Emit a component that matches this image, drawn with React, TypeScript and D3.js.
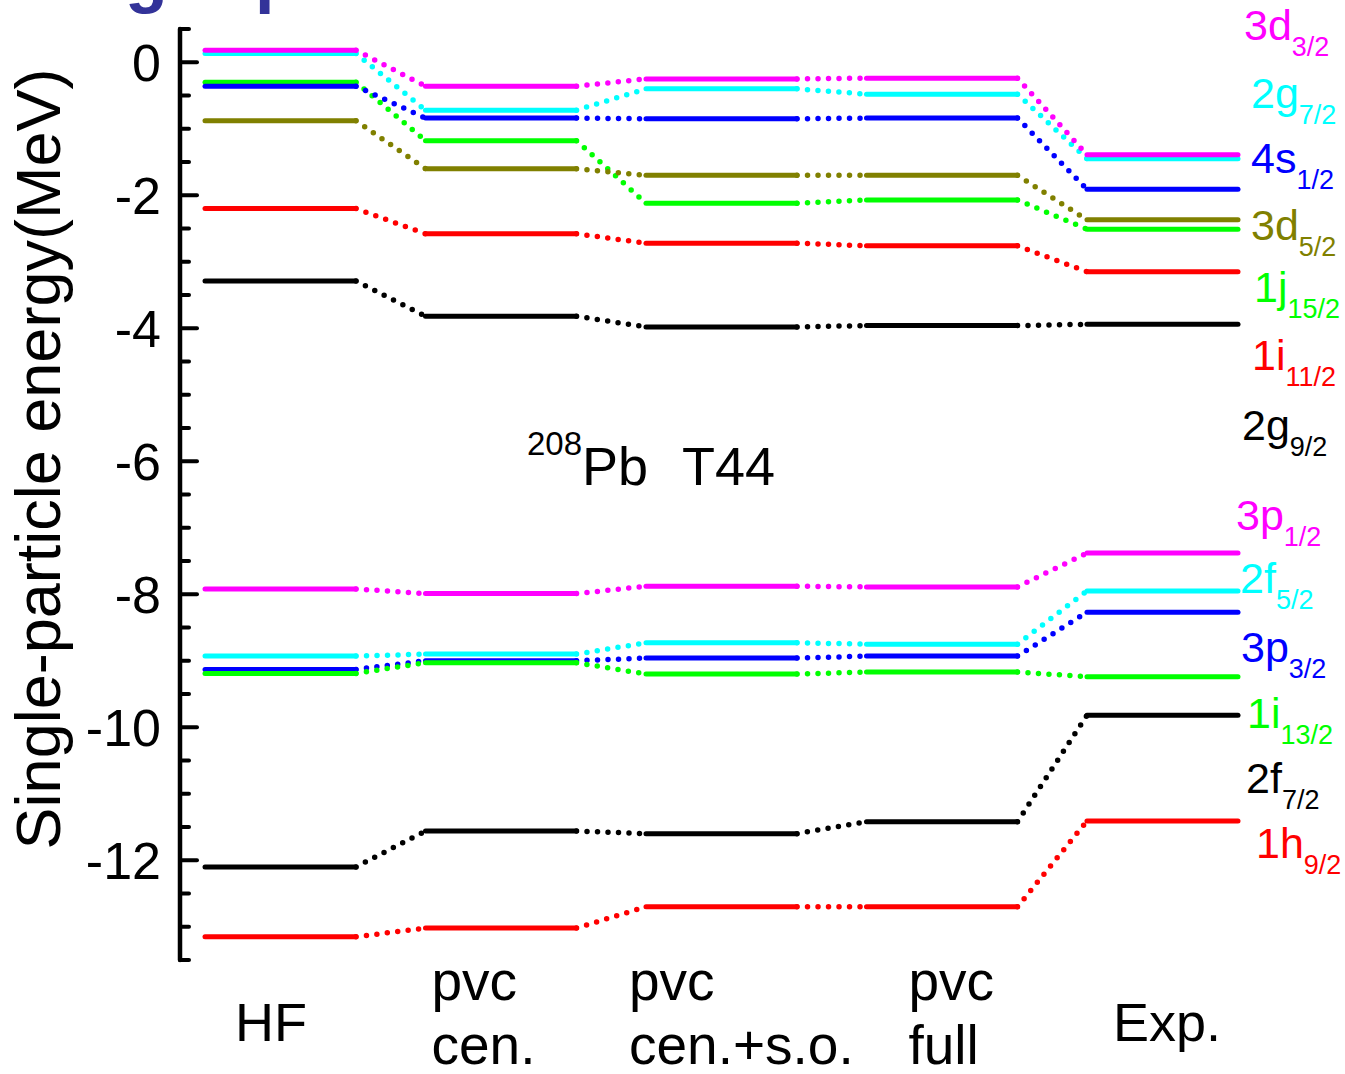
import React from 'react'
import * as d3 from 'd3'

// columns of the level scheme
const columns = ['HF', 'pvc cen.', 'pvc cen.+s.o.', 'pvc full', 'Exp.']
const columnLines = [['HF'], ['pvc', 'cen.'], ['pvc', 'cen.+s.o.'], ['pvc', 'full'], ['Exp.']]

// single-particle energies (MeV), one value per column, in draw order
const upperNames = ['2g', '3d', '1j', '4s', '3d', '1i', '2g']
const upperSubs = ['7/2', '3/2', '15/2', '1/2', '5/2', '11/2', '9/2']
const upperColors = ['#00ffff', '#ff00ff', '#00ff00', '#0000ff', '#808000', '#ff0000', '#000000']
const upperValues = [
  [0.13, -0.72, -0.40, -0.48, -1.45],
  [0.18, -0.36, -0.25, -0.24, -1.39],
  [-0.30, -1.18, -2.12, -2.07, -2.51],
  [-0.36, -0.84, -0.85, -0.84, -1.91],
  [-0.88, -1.60, -1.70, -1.70, -2.37],
  [-2.20, -2.58, -2.72, -2.76, -3.15],
  [-3.29, -3.82, -3.98, -3.96, -3.94],
]

const lowerNames = ['3p', '2f', '3p', '1i', '2f', '1h']
const lowerSubs = ['1/2', '5/2', '3/2', '13/2', '7/2', '9/2']
const lowerColors = ['#ff00ff', '#00ffff', '#0000ff', '#00ff00', '#000000', '#ff0000']
const lowerValues = [
  [-7.92, -7.99, -7.88, -7.89, -7.38],
  [-8.93, -8.90, -8.73, -8.75, -7.95],
  [-9.13, -9.00, -8.96, -8.93, -8.27],
  [-9.19, -9.03, -9.20, -9.17, -9.24],
  [-12.10, -11.56, -11.60, -11.42, -9.82],
  [-13.15, -13.02, -12.70, -12.70, -11.41],
]

const majorTicks = [0, -2, -4, -6, -8, -10, -12]
const minorTicks = d3.range(0.5, -13.51, -0.5)

// right-hand labels, listed top to bottom
const labelOrder = [
  ['3d', '3/2', '#ff00ff'], ['2g', '7/2', '#00ffff'], ['4s', '1/2', '#0000ff'],
  ['3d', '5/2', '#808000'], ['1j', '15/2', '#00ff00'], ['1i', '11/2', '#ff0000'],
  ['2g', '9/2', '#000000'], ['3p', '1/2', '#ff00ff'], ['2f', '5/2', '#00ffff'],
  ['3p', '3/2', '#0000ff'], ['1i', '13/2', '#00ff00'], ['2f', '7/2', '#000000'],
  ['1h', '9/2', '#ff0000'],
]
const labelX = [1244, 1251, 1251, 1251, 1254, 1252, 1242, 1236, 1240, 1241, 1247, 1246, 1256]
const labelY = [40, 108, 173, 240, 302, 370, 440, 530, 593, 662, 728, 793, 858]

const font = 'Liberation Sans, Arial, Helvetica, sans-serif'

const App = () => {
  const W = 1345
  const H = 1074

  const x = d3.scaleBand<string>()
    .domain(columns)
    .range([205, 1238])
    .paddingInner(0.315)
    .paddingOuter(0)

  const y = d3.scaleLinear().domain([0.5, -13.5]).range([29, 960])

  const levels = [
    ...upperValues.map((v, i) => ({ name: upperNames[i], sub: upperSubs[i], color: upperColors[i], values: v })),
    ...lowerValues.map((v, i) => ({ name: lowerNames[i], sub: lowerSubs[i], color: lowerColors[i], values: v })),
  ]

  const bw = x.bandwidth()
  const axisX = 180

  return (
    <svg width={W} height={H} style={{ display: 'block', position: 'absolute', left: 0, top: 0 }}
      fontFamily={font}>
      <rect width={W} height={H} fill="#fff" />

      {/* cropped title above the figure */}
      <text x={125} y={-1} fontSize={70} fontWeight="bold" fill="#333399">g</text>
      <text x={255} y={-1} fontSize={70} fontWeight="bold" fill="#333399">p</text>

      {/* y axis */}
      <line x1={axisX} x2={axisX} y1={y(0.5)} y2={y(-13.5)} stroke="#000" strokeWidth={4.5} strokeLinecap="round" />
      {minorTicks.map((t) => {
        const major = majorTicks.includes(t)
        return (
          <line key={t} x1={axisX} x2={axisX + (major ? 17 : 9)} y1={y(t)} y2={y(t)}
            stroke="#000" strokeWidth={4} strokeLinecap="round" />
        )
      })}
      {majorTicks.map((t) => (
        <text key={t} x={161} y={y(t)} dy="0.36em" textAnchor="end" fontSize={52}>{t}</text>
      ))}
      <text transform={`translate(60,459) rotate(-90)`} textAnchor="middle" fontSize={63}>
        Single-particle energy(MeV)
      </text>

      {/* levels */}
      {levels.map((lv, li) => (
        <g key={li} stroke={lv.color} strokeWidth={5} strokeLinecap="round">
          {lv.values.map((v, ci) => (
            <line key={ci} x1={x(columns[ci])!} x2={x(columns[ci])! + bw} y1={y(v)} y2={y(v)} />
          ))}
          {lv.values.slice(1).map((v, ci) => (
            <line key={`c${ci}`} x1={x(columns[ci])! + bw} x2={x(columns[ci + 1])!}
              y1={y(lv.values[ci])} y2={y(v)} strokeWidth={5.5} strokeDasharray="0 10.5" />
          ))}
        </g>
      ))}

      {/* annotation */}
      <text x={527} y={485} fontSize={54}>
        <tspan fontSize={33} dy={-30}>208</tspan>
        <tspan dy={30}>Pb</tspan>
        <tspan x={682}>T44</tspan>
      </text>

      {/* level labels */}
      {labelOrder.map(([n, s, c], i) => (
        <text key={i} x={labelX[i]} y={labelY[i]} fontSize={43} fill={c}>
          {n}
          <tspan fontSize={27} dy={16}>{s}</tspan>
        </text>
      ))}

      {/* column labels */}
      {columnLines.map((lines, i) => {
        const cx = x(columns[i])!
        const offs = [30, 6, -17, 42, 26]
        if (lines.length === 1) {
          return <text key={i} x={cx + offs[i]} y={1041} fontSize={54}>{lines[0]}</text>
        }
        return (
          <text key={i} x={cx + offs[i]} y={1000} fontSize={55}>
            <tspan x={cx + offs[i]}>{lines[0]}</tspan>
            <tspan x={cx + offs[i]} dy={64}>{lines[1]}</tspan>
          </text>
        )
      })}
    </svg>
  )
}

export default App
